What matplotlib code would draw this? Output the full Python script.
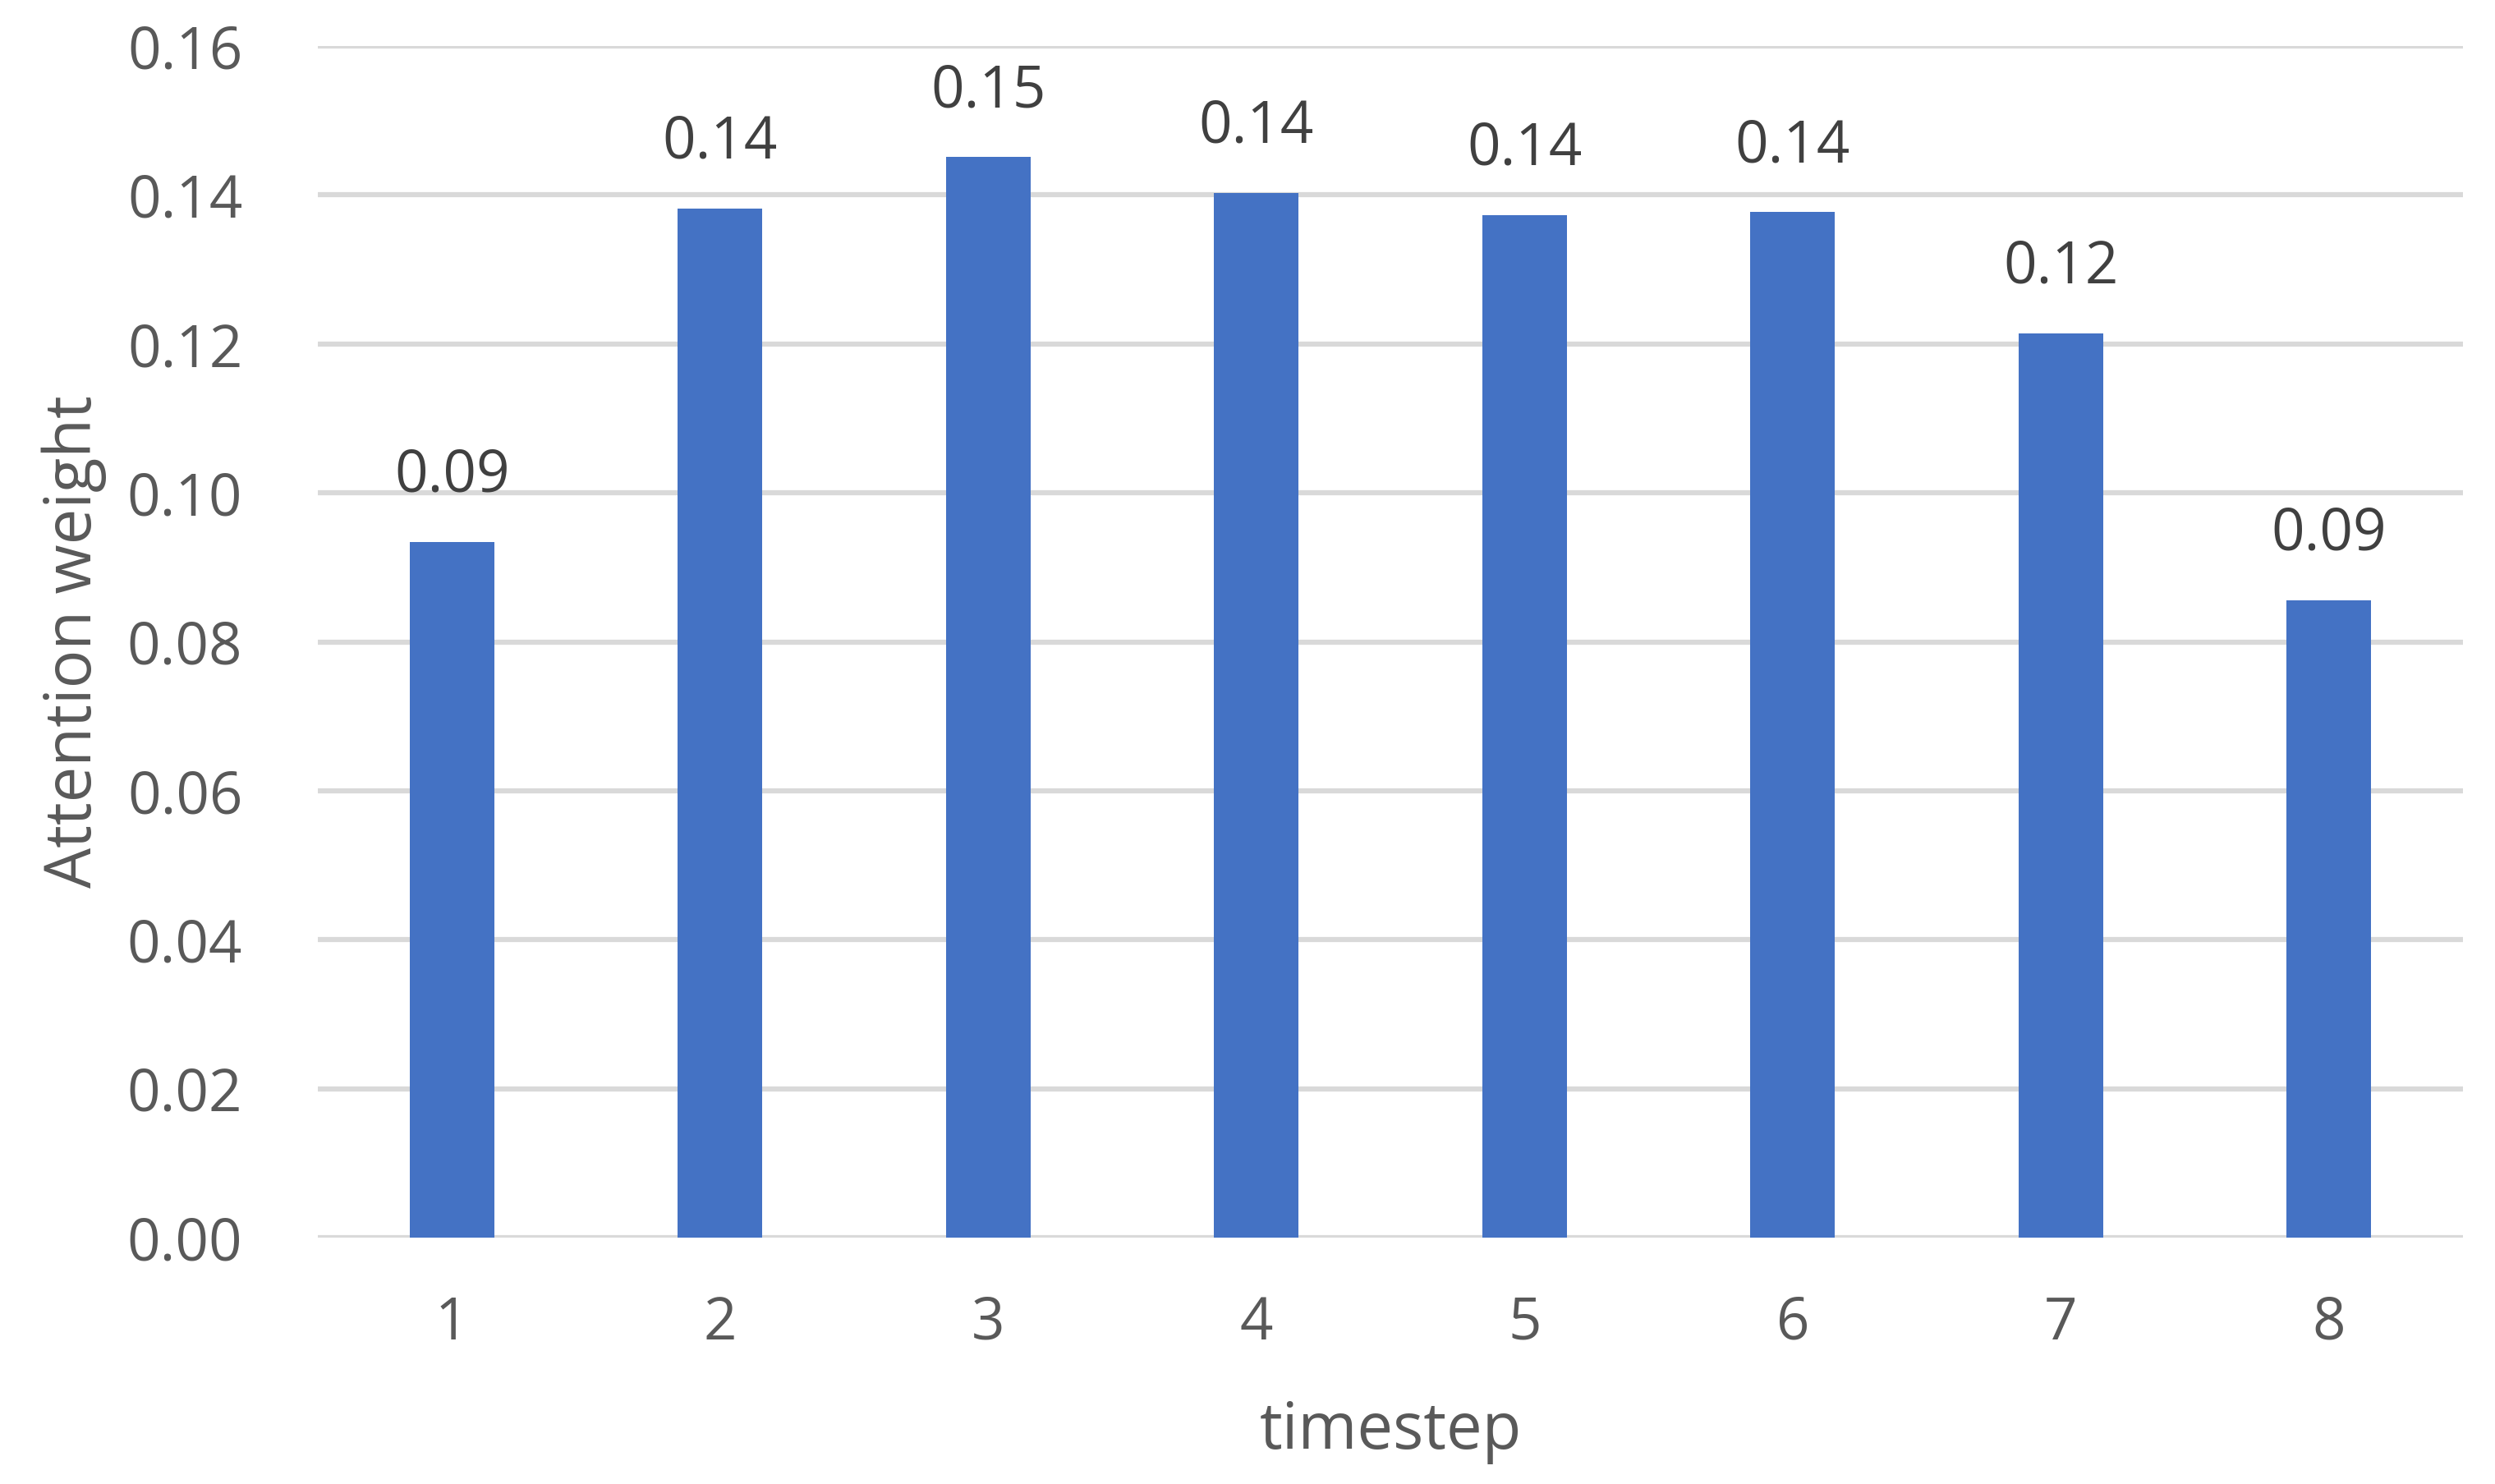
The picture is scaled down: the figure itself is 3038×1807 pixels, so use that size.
import matplotlib

matplotlib.use("Agg")
import matplotlib.pyplot as plt

# values
timesteps = ["1", "2", "3", "4", "5", "6", "7", "8"]
weights = [0.0934, 0.1382, 0.1451, 0.1403, 0.1373, 0.1377, 0.1214, 0.0856]
y_ticks = [0.00, 0.02, 0.04, 0.06, 0.08, 0.10, 0.12, 0.14, 0.16]

TEXT = "#595959"
BAR = "#4472C4"
GRID = "#D9D9D9"

plt.rcParams["font.family"] = ["Open Sans", "DejaVu Sans"]

fig = plt.figure(figsize=(30.38, 18.07), dpi=100)
ax = fig.add_axes([0.1274, 0.166, 0.8598, 0.803])

xs = list(range(len(timesteps)))
ax.bar(xs, weights, width=0.315, color=BAR, zorder=3)

for x, w in zip(xs, weights):
    ax.annotate(f"{w:.2f}", (x, w), xytext=(0, 44), textcoords="offset points",
                ha="center", va="baseline", fontsize=51, color="#404040")

ax.set_xlim(-0.5, len(timesteps) - 0.5)
ax.set_ylim(0, 0.16)
ax.set_yticks(y_ticks)
ax.set_yticklabels([f"{t:.2f}" for t in y_ticks])
ax.set_xticks(xs)
ax.set_xticklabels(timesteps)

ax.grid(axis="y", color=GRID, linewidth=4.5, zorder=0)
ax.set_axisbelow(True)
for s in ax.spines.values():
    s.set_visible(False)
ax.tick_params(axis="both", length=0, labelsize=51, labelcolor=TEXT)
ax.tick_params(axis="y", pad=66)
ax.tick_params(axis="x", pad=50)

ax.set_xlabel("timestep", fontsize=56, color=TEXT, labelpad=40)
ax.set_ylabel("Attention weight", fontsize=56, color=TEXT, labelpad=18)

fig.savefig("out.png", dpi=100, facecolor="white")
